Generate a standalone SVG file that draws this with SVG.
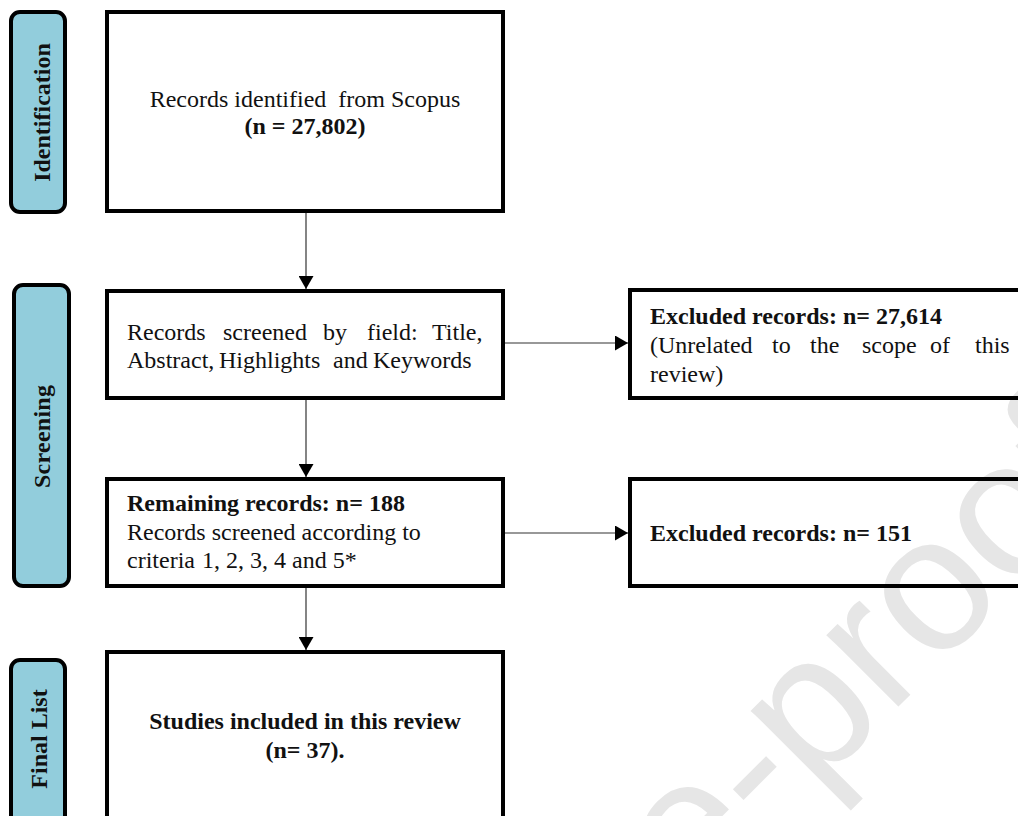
<svg xmlns="http://www.w3.org/2000/svg" width="1018" height="816" viewBox="0 0 1018 816">
  <style>
    .box { fill: none; stroke: #000; stroke-width: 4; }
    .pill { fill: #92CDDC; stroke: #000; stroke-width: 4; }
    .t { font-family: "Liberation Serif", "Times New Roman", serif; font-size: 24px; fill: #111; }
    .b { font-family: "Liberation Serif", "Times New Roman", serif; font-size: 24px; font-weight: bold; fill: #111; }
    .lbl { font-family: "Liberation Serif", "Times New Roman", serif; font-size: 24px; font-weight: bold; fill: #111; text-anchor: middle; }
    .c { text-anchor: middle; }
    .conn { stroke: #333; stroke-width: 1.2; fill: none; marker-end: url(#arr); }
    .wm { font-family: "Liberation Sans", Arial, sans-serif; font-size: 192px; fill: #e6e6e6; text-anchor: end; }
  </style>
  <defs>
    <marker id="arr" markerUnits="userSpaceOnUse" markerWidth="14" markerHeight="15" refX="13" refY="7.5" orient="auto">
      <path d="M0,0 L13,7.5 L0,15 Z" fill="#000"/>
    </marker>
  </defs>
  <rect width="1018" height="816" fill="#fff"/>

  <g id="watermark">
    <text class="wm" transform="translate(1123,482) rotate(-45)">Journal Pre-proof</text>
  </g>

  <g id="stage-identification">
    <rect class="pill" x="11" y="12" width="54" height="200" rx="9"/>
    <text class="lbl" font-size="25" transform="translate(50,112.5) rotate(-90)">Identification</text>
  </g>
  <g id="stage-screening">
    <rect class="pill" x="14" y="285" width="55" height="301" rx="9"/>
    <text class="lbl" textLength="103" transform="translate(50,436.5) rotate(-90)">Screening</text>
  </g>
  <g id="stage-final">
    <rect class="pill" x="11" y="660" width="54" height="200" rx="9"/>
    <text class="lbl" transform="translate(47,739) rotate(-90)">Final List</text>
  </g>

  <g id="connectors">
    <line class="conn" x1="306" y1="213" x2="306" y2="289"/>
    <line class="conn" x1="306" y1="400" x2="306" y2="477"/>
    <line class="conn" x1="306" y1="588" x2="306" y2="650"/>
    <line class="conn" x1="505" y1="343" x2="628" y2="343"/>
    <line class="conn" x1="505" y1="533" x2="628" y2="533"/>
  </g>

  <g id="node-identified">
    <rect class="box" x="107" y="12" width="396" height="199"/>
    <text class="t c" x="305" y="107" xml:space="preserve">Records identified  from Scopus</text>
    <text class="b c" x="305" y="134">(n = 27,802)</text>
  </g>

  <g id="node-screened">
    <rect class="box" x="107" y="291" width="396" height="107"/>
    <text class="t" y="340"><tspan x="127">Records</tspan><tspan x="223">screened</tspan><tspan x="323">by</tspan><tspan x="367">field:</tspan><tspan x="432">Title,</tspan></text>
    <text class="t" y="368"><tspan x="127">Abstract,</tspan><tspan x="219">Highlights</tspan><tspan x="333">and</tspan><tspan x="373">Keywords</tspan></text>
  </g>

  <g id="node-remaining">
    <rect class="box" x="107" y="479" width="396" height="107"/>
    <text class="b" x="127" y="511">Remaining records: n= 188</text>
    <text class="t" x="127" y="540">Records screened according to</text>
    <text class="t" y="568"><tspan x="127">criteria</tspan><tspan x="202">1, 2, 3, 4 and 5*</tspan></text>
  </g>

  <g id="node-final">
    <rect class="box" x="107" y="652" width="396" height="200"/>
    <text class="b c" x="305" y="729">Studies included in this review</text>
    <text class="b c" x="305" y="758">(n= 37).</text>
  </g>

  <g id="node-excluded-1">
    <rect class="box" x="630" y="290" width="420" height="108"/>
    <text class="b" x="650" y="324">Excluded records: n= 27,614</text>
    <text class="t" y="353"><tspan x="650">(Unrelated</tspan><tspan x="772">to</tspan><tspan x="810">the</tspan><tspan x="862">scope</tspan><tspan x="930">of</tspan><tspan x="975">this</tspan></text>
    <text class="t" x="650" y="382">review)</text>
  </g>

  <g id="node-excluded-2">
    <rect class="box" x="630" y="479" width="420" height="107"/>
    <text class="b" x="650" y="541">Excluded records: n= 151</text>
  </g>
</svg>
